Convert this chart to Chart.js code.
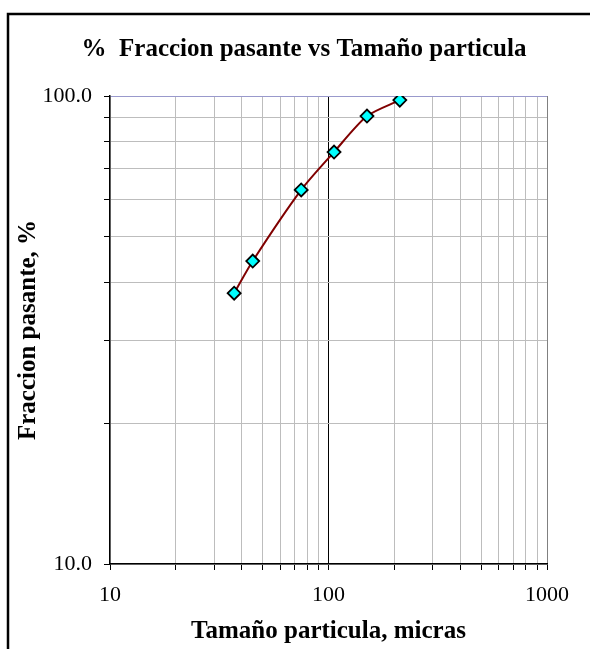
<!DOCTYPE html>
<html>
<head>
<meta charset="utf-8">
<script src="https://cdn.jsdelivr.net/npm/chart.js@4/dist/chart.umd.min.js"></script>
<style>
  html, body { margin: 0; padding: 0; background: #fff; }
  #wrap { width: 590px; height: 649px; }
</style>
</head>
<body>
<div id="wrap"><canvas id="grafico" width="590" height="649"></canvas></div>
<script>
// datos
var tamanos = [37, 45, 75, 106, 150, 212];
var pasante = [37.9, 44.4, 63.0, 75.9, 90.6, 98.0];
var xTicks = [10, 20, 30, 40, 50, 60, 70, 80, 90, 100, 200, 300, 400, 500, 600, 700, 800, 900, 1000];
var yTicks = [10, 20, 30, 40, 50, 60, 70, 80, 90, 100];
var xLabels = [10, 100, 1000];
var yLabels = [10, 100];

var puntos = tamanos.map(function (t, i) {
  return { x: t, y: pasante[i] };
});

var serif = "'Liberation Serif', 'Times New Roman', serif";

var marco = {
  id: "marco",
  beforeDraw: function (chart) {
    var c = chart.ctx;
    c.save();
    c.strokeStyle = "#000";
    c.lineWidth = 2.5;
    c.beginPath();
    c.moveTo(8, 660);
    c.lineTo(8, 14);
    c.lineTo(600, 14);
    c.stroke();
    c.restore();
  },
  afterDraw: function (chart) {
    var c = chart.ctx;
    c.save();
    c.fillStyle = "#000";
    c.font = "bold 25px " + serif;
    c.textAlign = "center";
    c.textBaseline = "middle";
    c.fillText("%  Fraccion pasante vs Tamaño particula", 304, 50);
    c.restore();
  }
};

var ctx = document.getElementById("grafico").getContext("2d");
var grafico = new Chart(ctx, {
  type: "line",
  data: {
    datasets: [
      {
        label: "Fraccion pasante",
        data: puntos,
        borderColor: "#800000",
        borderWidth: 2,
        tension: 0.25,
        pointStyle: "rectRot",
        pointRadius: 6.5,
        pointHoverRadius: 6.5,
        pointBackgroundColor: "#00ffff",
        pointBorderColor: "#000",
        pointBorderWidth: 1.8,
      },
    ],
  },
  options: {
    responsive: false,
    animation: false,
    layout: { padding: { top: 96, left: 0, right: 43, bottom: 0 } },
    plugins: {
      legend: { display: false },
      tooltip: { enabled: false },
    },
    scales: {
      x: {
        type: "logarithmic",
        min: 10,
        max: 1000,
        afterBuildTicks: function (s) {
          s.ticks = xTicks.map(function (v) { return { value: v }; });
        },
        afterFit: function (s) { s.height = 85; },
        grid: {
          color: function (c) {
            var v = c.tick && c.tick.value;
            if (v === 100) return "#000";
            if (v === 1000) return "#808080";
            return "#bdbdbd";
          },
          lineWidth: 1,
          tickColor: "#000",
          tickLength: 6,
        },
        border: { color: "#000", width: 1.5 },
        ticks: {
          autoSkip: false,
          maxRotation: 0,
          padding: 12,
          color: "#000",
          font: { family: serif, size: 22 },
          callback: function (v) {
            return xLabels.indexOf(v) >= 0 ? String(v) : "";
          },
        },
        title: {
          display: true,
          text: "Tamaño particula, micras",
          color: "#000",
          font: { family: serif, size: 25, weight: "bold" },
          padding: { top: 0, bottom: 2 },
        },
      },
      y: {
        type: "logarithmic",
        min: 10,
        max: 100,
        afterBuildTicks: function (s) {
          s.ticks = yTicks.map(function (v) { return { value: v }; });
        },
        afterFit: function (s) { s.width = 110; },
        grid: {
          color: function (c) {
            var v = c.tick && c.tick.value;
            if (v === 100) return "#9999cc";
            return "#bdbdbd";
          },
          lineWidth: 1,
          tickColor: "#000",
          tickLength: 6,
        },
        border: { color: "#000", width: 1.5 },
        ticks: {
          autoSkip: false,
          padding: 12,
          color: "#000",
          font: { family: serif, size: 22 },
          callback: function (v) {
            return yLabels.indexOf(v) >= 0 ? v.toFixed(1) : "";
          },
        },
        title: {
          display: true,
          text: "Fraccion pasante, %",
          color: "#000",
          font: { family: serif, size: 25, weight: "bold" },
          padding: { top: 14, bottom: 0 },
        },
      },
    },
  },
  plugins: [marco],
});
</script>
</body>
</html>
